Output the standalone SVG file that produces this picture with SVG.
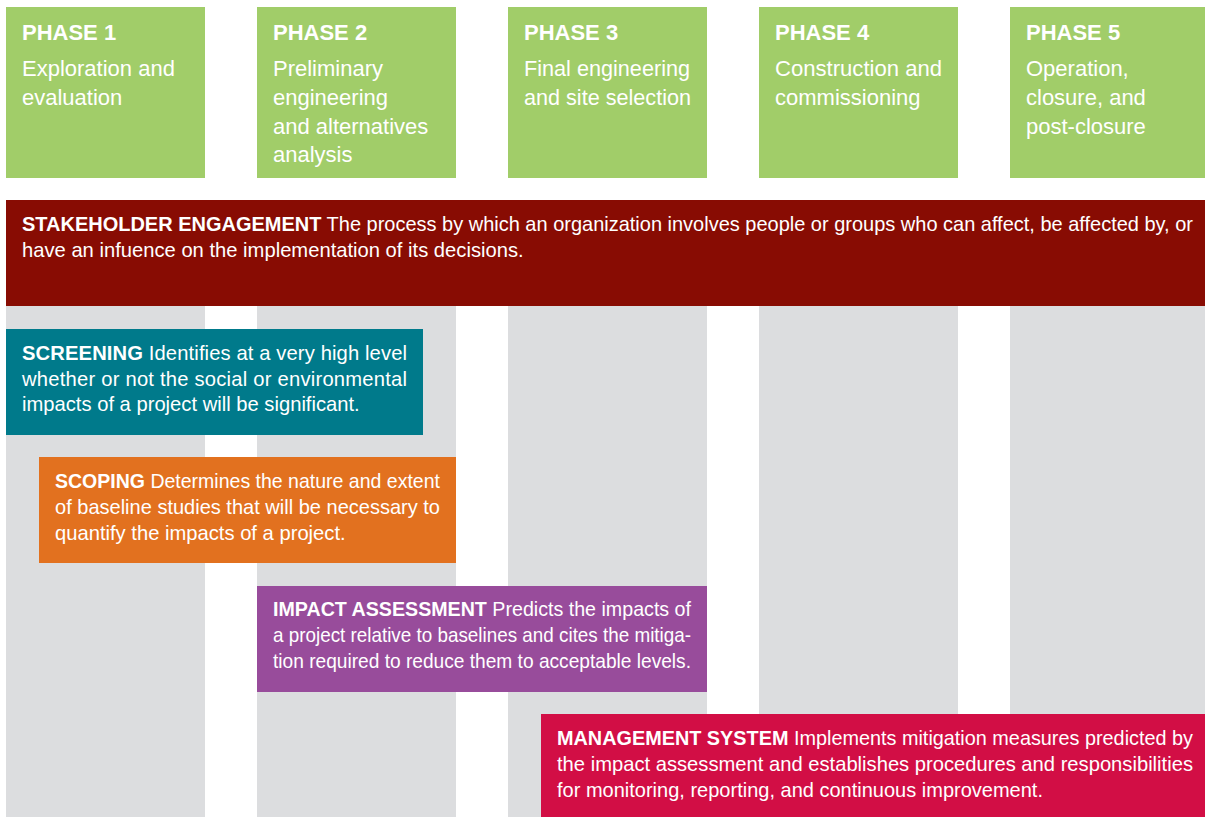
<svg xmlns="http://www.w3.org/2000/svg" width="1205" height="817" viewBox="0 0 1205 817">
<style>
.ph{fill:#a1cd69}
.col{fill:#dcdddf}
.t{font-family:"Liberation Sans",Arial,sans-serif;fill:#ffffff}
.pt{font-size:22px;font-weight:bold}
.pb{font-size:22px}
.bx{font-size:20.2px}
.b{font-weight:bold}
</style>
<rect width="1205" height="817" fill="#ffffff"/>
<g id="columns">
<rect class="col" x="6" y="306" width="199" height="511"/>
<rect class="col" x="257" y="306" width="199" height="511"/>
<rect class="col" x="508" y="306" width="199" height="511"/>
<rect class="col" x="759" y="306" width="199" height="511"/>
<rect class="col" x="1010" y="306" width="195" height="511"/>
</g>
<g id="phase1">
<rect class="ph" x="6" y="7" width="199" height="171"/>
<text class="t pt" x="22" y="40">PHASE 1</text>
<text class="t pb" x="22" y="76">Exploration and</text>
<text class="t pb" x="22" y="105">evaluation</text>
</g>
<g id="phase2">
<rect class="ph" x="257" y="7" width="199" height="171"/>
<text class="t pt" x="273" y="40">PHASE 2</text>
<text class="t pb" x="273" y="76">Preliminary</text>
<text class="t pb" x="273" y="105">engineering</text>
<text class="t pb" x="273" y="134">and alternatives</text>
<text class="t pb" x="273" y="162">analysis</text>
</g>
<g id="phase3">
<rect class="ph" x="508" y="7" width="199" height="171"/>
<text class="t pt" x="524" y="40">PHASE 3</text>
<text class="t pb" x="524" y="76" textLength="166" lengthAdjust="spacingAndGlyphs">Final engineering</text>
<text class="t pb" x="524" y="105" textLength="167" lengthAdjust="spacingAndGlyphs">and site selection</text>
</g>
<g id="phase4">
<rect class="ph" x="759" y="7" width="199" height="171"/>
<text class="t pt" x="775" y="40">PHASE 4</text>
<text class="t pb" x="775" y="76" textLength="167" lengthAdjust="spacingAndGlyphs">Construction and</text>
<text class="t pb" x="775" y="105">commissioning</text>
</g>
<g id="phase5">
<rect class="ph" x="1010" y="7" width="195" height="171"/>
<text class="t pt" x="1026" y="40">PHASE 5</text>
<text class="t pb" x="1026" y="76">Operation,</text>
<text class="t pb" x="1026" y="105">closure, and</text>
<text class="t pb" x="1026" y="134">post-closure</text>
</g>
<g id="stakeholder">
<rect x="6" y="200" width="1199" height="106" fill="#880c03"/>
<text class="t bx" x="22" y="231" textLength="1171" lengthAdjust="spacingAndGlyphs"><tspan class="b">STAKEHOLDER ENGAGEMENT</tspan> The process by which an organization involves people or groups who can affect, be affected by, or</text>
<text class="t bx" x="22" y="257">have an infuence on the implementation of its decisions.</text>
</g>
<g id="screening">
<rect x="6" y="329" width="417" height="106" fill="#007a8b"/>
<text class="t bx" x="22" y="360" textLength="385" lengthAdjust="spacing"><tspan class="b">SCREENING</tspan> Identifies at a very high level</text>
<text class="t bx" x="22" y="386" textLength="385" lengthAdjust="spacing">whether or not the social or environmental</text>
<text class="t bx" x="22" y="411">impacts of a project will be significant.</text>
</g>
<g id="scoping">
<rect x="39" y="457" width="417" height="106" fill="#e2711f"/>
<text class="t bx" x="55" y="488" textLength="385" lengthAdjust="spacingAndGlyphs"><tspan class="b">SCOPING</tspan> Determines the nature and extent</text>
<text class="t bx" x="55" y="514" textLength="385" lengthAdjust="spacingAndGlyphs">of baseline studies that will be necessary to</text>
<text class="t bx" x="55" y="540">quantify the impacts of a project.</text>
</g>
<g id="impact">
<rect x="257" y="586" width="450" height="106" fill="#984c9b"/>
<text class="t bx" x="273" y="616" textLength="418" lengthAdjust="spacingAndGlyphs"><tspan class="b">IMPACT ASSESSMENT</tspan> Predicts the impacts of</text>
<text class="t bx" x="273" y="642" textLength="418" lengthAdjust="spacingAndGlyphs">a project relative to baselines and cites the mitiga-</text>
<text class="t bx" x="273" y="668" textLength="418" lengthAdjust="spacingAndGlyphs">tion required to reduce them to acceptable levels.</text>
</g>
<g id="management">
<rect x="541" y="714" width="664" height="103" fill="#d20e45"/>
<text class="t bx" x="557" y="745" textLength="636" lengthAdjust="spacingAndGlyphs"><tspan class="b">MANAGEMENT SYSTEM</tspan> Implements mitigation measures predicted by</text>
<text class="t bx" x="557" y="771" textLength="636" lengthAdjust="spacingAndGlyphs">the impact assessment and establishes procedures and responsibilities</text>
<text class="t bx" x="557" y="797" textLength="486" lengthAdjust="spacingAndGlyphs">for monitoring, reporting, and continuous improvement.</text>
</g>
<g id="connectors"/>
</svg>
